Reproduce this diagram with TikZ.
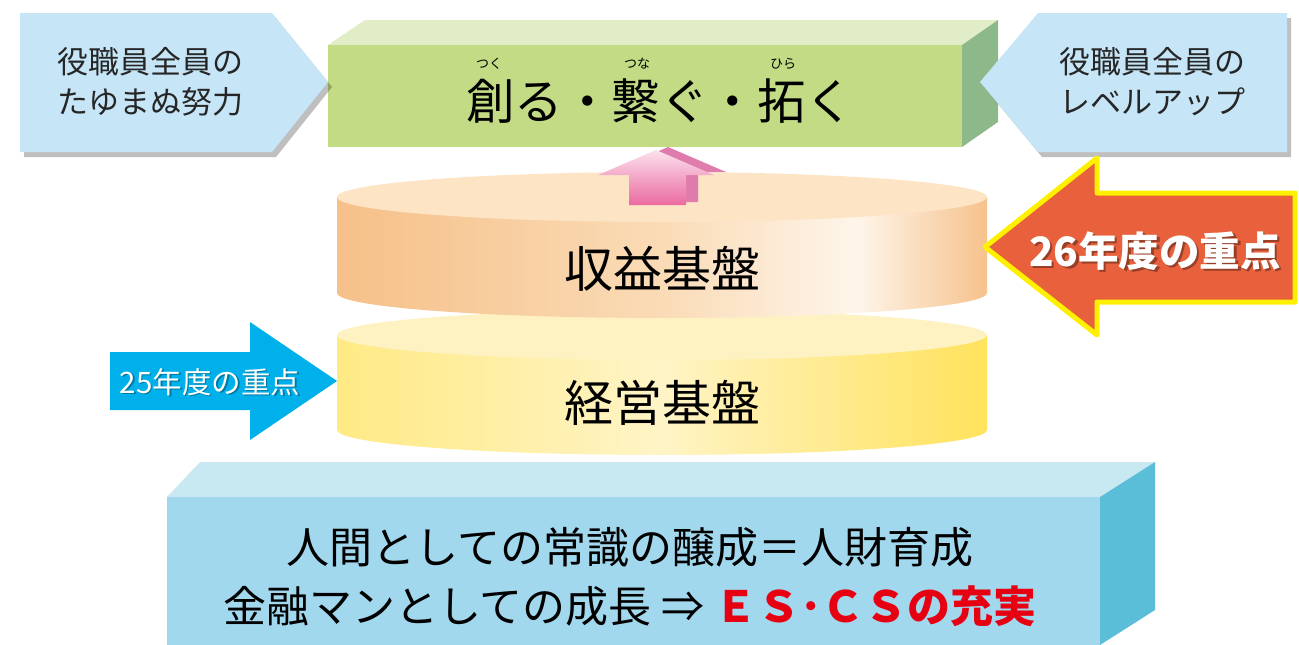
\documentclass[tikz,border=0pt]{standalone}
\usepackage{fontspec}
\setmainfont{Noto Sans CJK JP}
\definecolor{pentfill}{HTML}{C6E6F8}
\definecolor{grfront}{HTML}{C2DB84}
\definecolor{grtop}{HTML}{E1EDC6}
\definecolor{grside}{HTML}{8DB98A}
\definecolor{orL}{HTML}{F6C089}
\definecolor{orM}{HTML}{FADBB6}
\definecolor{orH}{HTML}{FEF5EA}
\definecolor{orR}{HTML}{F6C28C}
\definecolor{ortop}{HTML}{FDE4C5}
\definecolor{yeL}{HTML}{FFEA85}
\definecolor{yeM}{HTML}{FFF4C6}
\definecolor{yeR}{HTML}{FFE25C}
\definecolor{yetop}{HTML}{FFF2C2}
\definecolor{bluearrow}{HTML}{00B0EA}
\definecolor{redarrow}{HTML}{E8613C}
\definecolor{arrowedge}{HTML}{FFF000}
\definecolor{bxfront}{HTML}{A2D8EE}
\definecolor{bxtop}{HTML}{C8E8F2}
\definecolor{bxside}{HTML}{5BBED8}
\definecolor{esred}{HTML}{E60012}
\definecolor{pinklight}{HTML}{FBE1EE}
\definecolor{pinkdark}{HTML}{EB6AA0}
\definecolor{pinkside}{HTML}{E07CAC}
\pgfdeclarehorizontalshading{orside}{100bp}{color(0bp)=(orL); color(25bp)=(orL); color(50bp)=(orM); color(65bp)=(orH); color(75bp)=(orR); color(100bp)=(orR)}
\pgfdeclarehorizontalshading{yeside}{100bp}{color(0bp)=(yeL); color(25bp)=(yeL); color(50bp)=(yeM); color(75bp)=(yeR); color(100bp)=(yeR)}
\tikzset{
  pentshape/.style={fill=pentfill},
  pentshadow/.style={fill=black, opacity=0.25},
  penttext/.style={align=center, font=\fontsize{31}{40}\selectfont, text=black!85},
  bigtext/.style={font=\fontsize{49}{52}\selectfont, text=black},
  rubytext/.style={font=\fontsize{13}{14}\selectfont, text=black},
}
\begin{document}
\begin{tikzpicture}[x=1pt,y=1pt]
\useasboundingbox (0,0) rectangle (1299,-645);
% ---------- yellow cylinder (経営基盤)
\path[shading=yeside] (337,-335) -- (337,-430) arc[start angle=180,end angle=360,x radius=325,y radius=25] -- (987,-335) -- cycle;
\fill[yetop] (662,-335) ellipse[x radius=325,y radius=25];
\node[bigtext] (keiei) at (662,-403) {経営基盤};
% ---------- orange cylinder (収益基盤)
\path[shading=orside] (337,-197) -- (337,-293) arc[start angle=180,end angle=360,x radius=325,y radius=25] -- (987,-197) -- cycle;
\fill[ortop] (662,-197) ellipse[x radius=325,y radius=25];
\node[bigtext] (shueki) at (662,-269) {収益基盤};
% ---------- pink up arrow
\fill[pinkside] (641,-202) -- (641,-172) -- (610,-172) -- (668,-147) -- (726,-172) -- (698,-172) -- (698,-202) -- cycle;
\shade[top color=pinklight, bottom color=pinkdark] (629,-205) -- (629,-175) -- (598,-175) -- (656,-150) -- (714,-175) -- (686,-175) -- (686,-205) -- cycle;
% ---------- green box
\fill[grtop] (328,-45) -- (365,-20) -- (998,-20) -- (962,-45) -- cycle;
\fill[grside] (962,-45) -- (998,-20) -- (998,-122) -- (962,-147) -- cycle;
\fill[grfront] (328,-45) rectangle (962,-147);
\node[font=\fontsize{48.5}{50}\selectfont] (motto) at (660,-101) {創る・繋ぐ・拓く};
\node[rubytext] (ruby1) at (489,-64) {つく};
\node[rubytext] (ruby2) at (637,-64) {つな};
\node[rubytext] (ruby3) at (783,-64) {ひら};
% ---------- left pentagon
\fill[pentshadow] (24,-18) -- (276,-18) -- (332,-87) -- (276,-157) -- (24,-157) -- cycle;
\fill[pentshape] (20,-13) -- (272,-13) -- (328,-82) -- (272,-152) -- (20,-152) -- cycle;
\node[penttext] (lefttext) at (150,-82) {役職員全員の\\たゆまぬ努力};
% ---------- right pentagon
\fill[pentshadow] (1042,-18) -- (1291,-18) -- (1291,-157) -- (1042,-157) -- (984,-87) -- cycle;
\fill[pentshape] (1038,-13) -- (1287,-13) -- (1287,-152) -- (1038,-152) -- (980,-82) -- cycle;
\node[penttext] (righttext) at (1152,-82) {役職員全員の\\レベルアップ};
% ---------- red arrow (26)
\fill[redarrow, draw=arrowedge, line width=5pt, line join=round] (985,-247) -- (1097,-158) -- (1097,-193) -- (1295,-193) -- (1295,-302) -- (1097,-302) -- (1097,-335) -- cycle;
\node[font=\fontsize{40.5}{42}\selectfont\bfseries, text=black, opacity=0.35] (r26s) at (1157.5,-253.5) {26年度の重点};
\node[font=\fontsize{40.5}{42}\selectfont\bfseries, text=white] (r26) at (1155,-251) {26年度の重点};
% ---------- blue arrow (25)
\fill[bluearrow] (110,-352) -- (250,-352) -- (250,-322) -- (337,-381) -- (250,-440) -- (250,-410) -- (110,-410) -- cycle;
\node[font=\fontsize{29.5}{30}\selectfont, text=black, opacity=0.3] (b25s) at (211.5,-383.5) {25年度の重点};
\node[font=\fontsize{29.5}{30}\selectfont, text=white] (b25) at (210,-382) {25年度の重点};
% ---------- bottom box
\fill[bxtop] (167,-497) -- (200,-462) -- (1155,-462) -- (1100,-497) -- cycle;
\fill[bxside] (1100,-497) -- (1155,-462) -- (1155,-610) -- (1100,-645) -- cycle;
\fill[bxfront] (167,-497) rectangle (1100,-645);
\node[align=center, font=\fontsize{43}{59}\selectfont, text=black] (base) at (630,-577) {人間としての常識の醸成＝人財育成\\金融マンとしての成長 ⇒ {\color{esred}\bfseries ＥＳ･ＣＳの充実}};
\end{tikzpicture}
\end{document}
